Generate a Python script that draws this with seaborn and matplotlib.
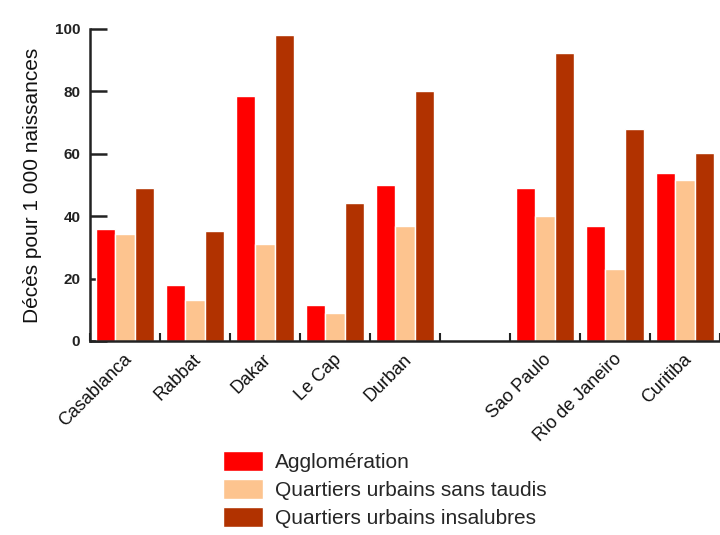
import matplotlib
matplotlib.use("Agg")
import matplotlib.pyplot as plt
import matplotlib.transforms as mtransforms
from matplotlib.ticker import FixedLocator
import seaborn as sns
import pandas as pd
import numpy as np

cities = ["Casablanca", "Rabbat", "Dakar", "Le Cap", "Durban", " ", "Sao Paulo", "Rio de Janeiro", "Curitiba"]
data_cities = ["Casablanca", "Rabbat", "Dakar", "Le Cap", "Durban", "Sao Paulo", "Rio de Janeiro", "Curitiba"]
agglomeration = [36.0, 18.0, 78.4, 11.5, 49.9, 48.9, 36.8, 54.0]
sans_taudis = [34.4, 13.1, 31.1, 9.1, 36.8, 40.1, 23.0, 51.5]
insalubres = [48.9, 35.3, 98.1, 44.2, 80.1, 92.3, 67.9, 60.4]
series_names = ["Agglomération", "Quartiers urbains sans taudis", "Quartiers urbains insalubres"]
colors = ["#FF0000", "#FDC48F", "#B13200"]
yticks = [0, 20, 40, 60, 80, 100]

rows = []
for name, vals in zip(series_names, [agglomeration, sans_taudis, insalubres]):
    for c, v in zip(data_cities, vals):
        rows.append({"ville": c, "serie": name, "valeur": v})
df = pd.DataFrame(rows)

sns.set_style("white")
plt.rcParams["font.family"] = ["Liberation Sans", "DejaVu Sans"]

fig = plt.figure(figsize=(7.2, 5.35), dpi=100)
ax = fig.add_axes([90 / 720, 1 - 341 / 535, 630 / 720, (341 - 29) / 535])

sns.barplot(data=df, x="ville", y="valeur", hue="serie", order=cities,
            hue_order=series_names, palette=colors, width=0.83,
            saturation=1, ax=ax, errorbar=None, legend=True)

ax.set_xlim(-0.5, len(cities) - 0.5)
ax.set_ylim(0, 100)
ax.set_yticks(yticks)
ax.set_yticklabels([str(t) for t in yticks], fontweight="bold", fontsize=11, color="#222222")
ax.set_ylabel("Décès pour 1 000 naissances", fontsize=15, color="#111111", labelpad=9)
ax.set_xlabel("")

for s in ["top", "right"]:
    ax.spines[s].set_visible(False)
for s in ["left", "bottom"]:
    ax.spines[s].set_linewidth(1.8)
    ax.spines[s].set_color("#222222")

ax.tick_params(axis="y", left=True, direction="in", length=12, width=1.8, color="#222222", pad=7)
ax.xaxis.set_minor_locator(FixedLocator(np.arange(len(cities) + 1) - 0.5))
ax.tick_params(axis="x", which="minor", bottom=True, direction="in", length=6, width=1.5, color="#222222")
ax.tick_params(axis="x", which="major", bottom=True, length=0, pad=7)
ax.set_xticks(range(len(cities)))
ax.set_xticklabels(cities, rotation=45, ha="right", fontsize=13, color="#111111")
offset = mtransforms.ScaledTranslation(7 / 72, 0, fig.dpi_scale_trans)
for lab in ax.get_xticklabels():
    lab.set_transform(lab.get_transform() + offset)

handles, labels = ax.get_legend_handles_labels()
ax.get_legend().remove()
fig.legend(handles, labels, loc="upper left", bbox_to_anchor=(223 / 720, 1 - 451 / 535),
           frameon=False, fontsize=15, borderpad=0, borderaxespad=0,
           handlelength=1.92, handleheight=1.1, handletextpad=0.58, labelspacing=0.34)

fig.savefig("out.png", dpi=100)
